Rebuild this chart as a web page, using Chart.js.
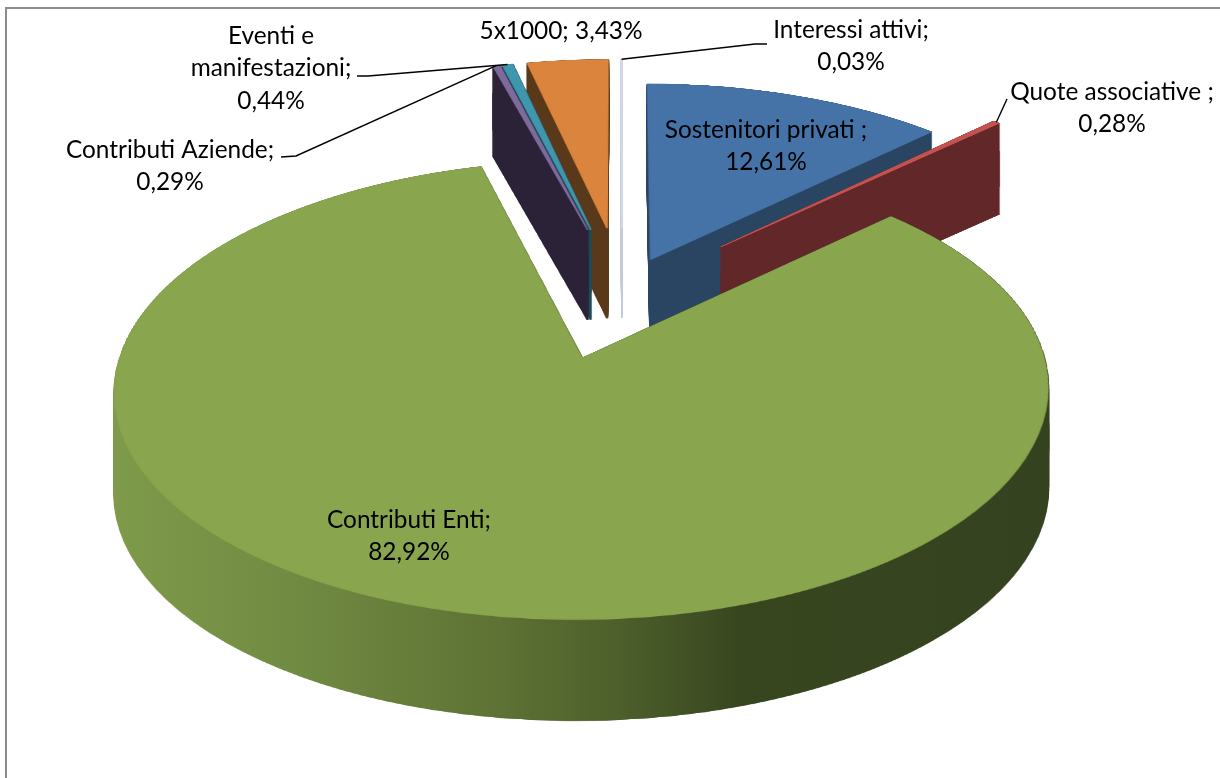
<!DOCTYPE html>
<html><head><meta charset="utf-8">
<script src="https://cdn.jsdelivr.net/npm/chart.js@4.4.1/dist/chart.umd.min.js"></script>
<style>html,body{margin:0;padding:0;background:#fff;}canvas{display:block;}</style>
</head><body>
<canvas id="c" width="1220" height="778"></canvas>
<script>
// ---- data ----
const categories = ['Sostenitori privati ', 'Quote associative ', 'Contributi Enti', 'Contributi Aziende', 'Eventi e manifestazioni', '5x1000', 'Interessi attivi'];
const shares = [12.61, 0.28, 82.92, 0.29, 0.44, 3.43, 0.03];

// ---- styles ----
const topColors  = ['#4572A7', '#C4524F', '#89A54E', '#7F6A9C', '#3F97AE', '#DB843D', '#D4DCEA'];
const sideColors = ['#2A4562', '#622728', 'gradient', '#2B2238', '#1E4A57', '#5A381A', '#C3CBD8'];
const greenSideStops = [[113,'#7e9a4a'],[300,'#718a42'],[500,'#5d7234'],[620,'#4d5f2b'],[740,'#38461f'],[1050,'#354220']];
const explode = [76, 142, 142, 142, 142, 142, 142];
const drawOrder = [6, 5, 4, 3, 0, 1, 2];
const view = { X0: 622, Y0: 291.6, k: 0.467, a: 0.0003, H: 92, radius: 443 };
const labelLayout = [
  { mode: 'two',   x: 766,  y: 130 },
  { mode: 'two',   x: 1112, y: 92,  leader: ['A', [1007, 99]] },
  { mode: 'two',   x: 409,  y: 520 },
  { mode: 'two',   x: 170,  y: 150, leader: [[281, 157], [296, 156], 'A'] },
  { mode: 'three', x: 271,  y: 36,  leader: [[357, 76], [368, 76], 'A'] },
  { mode: 'one',   x: 561,  y: 31 },
  { mode: 'two',   x: 851,  y: 30,  leader: ['A', [755, 44], [767, 44]] }
];
const lineGap = 32.5;

// ---- helpers ----
const P = 800;
function mk(w, h) { const c = document.createElement('canvas'); c.width = w; c.height = h; return c; }
const plane = mk(2 * P, 2 * P), pctx = plane.getContext('2d');
let topC, bufA, bufB;

function project(u, v) { const g = 1 / (1 + view.a * v); return [view.X0 + u * g, view.Y0 - view.k * v * g]; }

function warp(dctx, H) {
  for (let y = 0; y < H; y++) {
    const d = view.Y0 - (y + 0.5);
    const v = d / (view.k - view.a * d);
    const g = 1 / (1 + view.a * v);
    const sy = P - v;
    if (sy < 0.5 || sy > 2 * P - 1.5) continue;
    dctx.drawImage(plane, 0, sy - 0.5, 2 * P, 1, view.X0 - P * g, y, 2 * P * g, 1);
  }
}

function labelLines(i) {
  const pct = shares[i].toFixed(2).replace('.', ',') + '%';
  const name = categories[i] + ';';
  const L = labelLayout[i];
  if (L.mode === 'one') return [name + ' ' + pct];
  if (L.mode === 'three') { const idx = name.indexOf(' e ') + 2; return [name.slice(0, idx), name.slice(idx + 1), pct]; }
  return [name, pct];
}

function anchorOf(chart, i) {
  const arc = chart.getDatasetMeta(0).data[i];
  const mid = (arc.startAngle + arc.endAngle) / 2;
  const r = explode[i] + arc.outerRadius;
  return project(Math.cos(mid) * r, -Math.sin(mid) * r);
}

const pie3d = {
  id: 'pie3d',
  beforeDatasetsDraw(chart) {
    const ctx = chart.ctx;
    const W = chart.width, H = chart.height;
    if (!topC) { topC = mk(W, H); bufA = mk(W, H); bufB = mk(W, H); }
    const tctx = topC.getContext('2d');
    const meta = chart.getDatasetMeta(0);
    for (const i of drawOrder) {
      const arc = meta.data[i];
      const mid = (arc.startAngle + arc.endAngle) / 2;
      const ex = Math.cos(mid) * explode[i], ey = Math.sin(mid) * explode[i];
      pctx.setTransform(1, 0, 0, 1, 0, 0);
      pctx.clearRect(0, 0, 2 * P, 2 * P);
      pctx.setTransform(1, 0, 0, 1, P + ex - arc.x, P + ey - arc.y);
      arc.draw(pctx);
      pctx.setTransform(1, 0, 0, 1, 0, 0);
      tctx.clearRect(0, 0, W, H);
      warp(tctx, H);
      // depth from nearest point of slice
      let vmin = -ey;
      for (let s = 0; s <= 12; s++) {
        const t = arc.startAngle + (arc.endAngle - arc.startAngle) * s / 12;
        vmin = Math.min(vmin, -(ey + Math.sin(t) * arc.outerRadius));
      }
      const D = Math.round(view.H * Math.sqrt(1 / (1 + view.a * vmin)));
      // sweep
      let A = bufA, B = bufB;
      let actx = A.getContext('2d');
      actx.globalCompositeOperation = 'source-over';
      actx.clearRect(0, 0, W, H);
      actx.drawImage(topC, 0, 0);
      actx.drawImage(topC, 0, 0);
      let covered = 0, step = 1;
      while (covered < D) {
        const s = Math.min(step, D - covered);
        const bctx = B.getContext('2d');
        bctx.globalCompositeOperation = 'source-over';
        bctx.clearRect(0, 0, W, H);
        bctx.drawImage(A, 0, 0);
        bctx.drawImage(A, 0, s);
        const tmp = A; A = B; B = tmp;
        covered += s; step *= 2;
      }
      actx = A.getContext('2d');
      actx.globalCompositeOperation = 'source-in';
      if (sideColors[i] === 'gradient') {
        const x0 = greenSideStops[0][0], x1 = greenSideStops[greenSideStops.length - 1][0];
        const gr = actx.createLinearGradient(x0, 0, x1, 0);
        greenSideStops.forEach(([x, c]) => gr.addColorStop((x - x0) / (x1 - x0), c));
        actx.fillStyle = gr;
      } else actx.fillStyle = sideColors[i];
      actx.fillRect(0, 0, W, H);
      actx.globalCompositeOperation = 'source-over';
      ctx.drawImage(A, 0, 0);
      ctx.drawImage(topC, 0, 0);
    }
    return false;
  },
  afterDraw(chart) {
    const ctx = chart.ctx;
    ctx.save();
    // frame
    ctx.fillStyle = '#8c8c8c';
    ctx.fillRect(5, 7, chart.width - 5, 2);
    ctx.fillRect(5, 7, 2, chart.height - 7);
    // font size
    ctx.font = '100px Lato';
    const fs = 100 * 164 / ctx.measureText('Contributi Enti;').width;
    ctx.font = fs.toFixed(2) + 'px Lato';
    ctx.fillStyle = '#000';
    ctx.textAlign = 'center';
    ctx.textBaseline = 'middle';
    labelLayout.forEach((L, i) => {
      labelLines(i).forEach((t, j) => ctx.fillText(t, L.x, L.y + j * lineGap));
      if (L.leader) {
        const pts = L.leader.map(p => p === 'A' ? anchorOf(chart, i) : p);
        ctx.strokeStyle = '#000';
        ctx.lineWidth = 1.4;
        ctx.beginPath();
        pts.forEach((p, k) => k ? ctx.lineTo(p[0], p[1]) : ctx.moveTo(p[0], p[1]));
        ctx.stroke();
      }
    });
    ctx.restore();
  }
};

new Chart(document.getElementById('c'), {
  type: 'pie',
  data: {
    labels: categories,
    datasets: [{ data: shares, backgroundColor: topColors, borderColor: topColors, borderWidth: 1.6 }]
  },
  options: {
    responsive: false,
    animation: false,
    devicePixelRatio: 1,
    events: [],
    radius: view.radius,
    layout: { padding: 0 },
    plugins: { legend: { display: false }, tooltip: { enabled: false } }
  },
  plugins: [pie3d]
});
</script>
</body></html>
